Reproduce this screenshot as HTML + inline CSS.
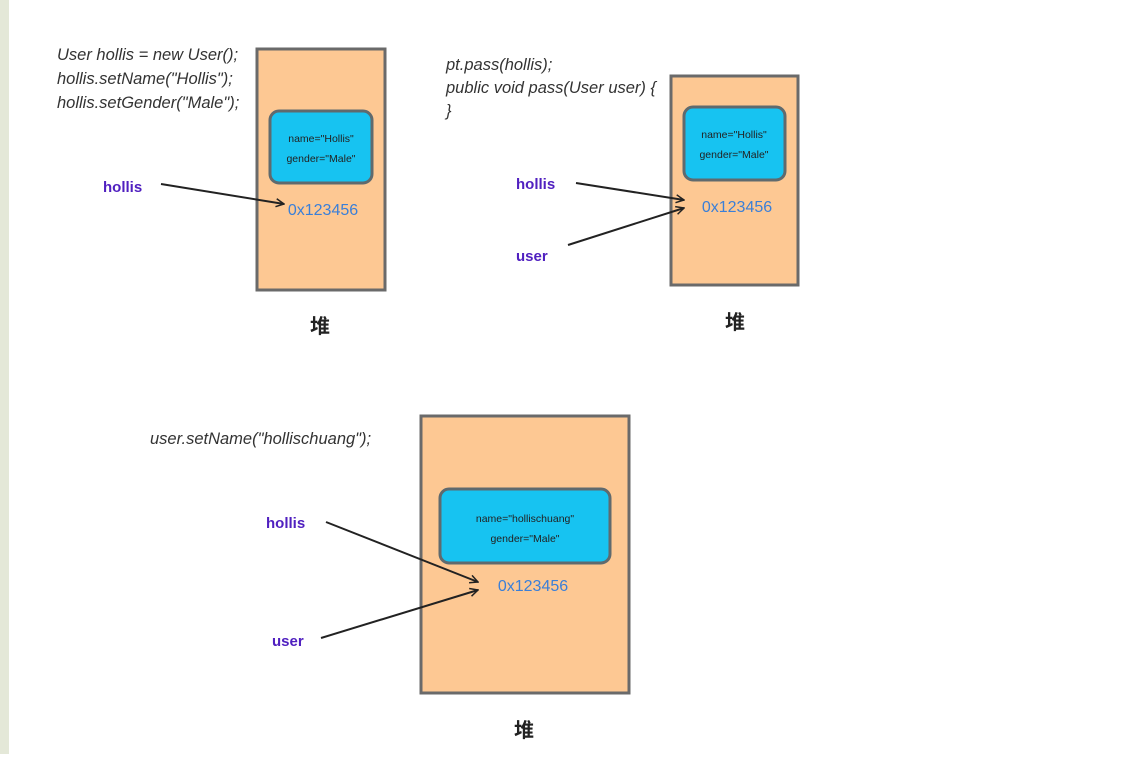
<!DOCTYPE html>
<html><head><meta charset="utf-8"><style>
body{margin:0;background:#fff;width:1129px;height:754px;overflow:hidden}
text{font-family:"Liberation Sans","Noto Sans CJK SC",sans-serif}
</style></head><body>
<svg width="1129" height="754" viewBox="0 0 1129 754" xmlns="http://www.w3.org/2000/svg">
<rect x="0" y="0" width="9" height="754" fill="#e4e8d8"/>
<defs><marker id="a" markerWidth="10" markerHeight="10" refX="9" refY="5" orient="auto" markerUnits="userSpaceOnUse"><path d="M1,1 L9,5 L1,9" fill="none" stroke="#222" stroke-width="1.5"/></marker></defs>
<g font-style="italic" font-size="16.5" fill="#333">
<text x="57" y="60">User hollis = new User();</text>
<text x="57" y="84">hollis.setName("Hollis");</text>
<text x="57" y="108">hollis.setGender("Male");</text>
<text x="446" y="70">pt.pass(hollis);</text>
<text x="446" y="93">public void pass(User user) {</text>
<text x="446" y="116">}</text>
<text x="150" y="444">user.setName("hollischuang");</text>
</g>
<g fill="#fdc893" stroke="#6a6a6a" stroke-width="3">
<rect x="257" y="49" width="128" height="241"/>
<rect x="671" y="76" width="127" height="209"/>
<rect x="421" y="416" width="208" height="277"/>
</g>
<g fill="#17c3f1" stroke="#5f6a6e" stroke-width="3">
<rect x="270" y="111" width="102" height="72" rx="9"/>
<rect x="684" y="107" width="101" height="73" rx="9"/>
<rect x="440" y="489" width="170" height="74" rx="9"/>
</g>
<g font-size="10.5" fill="#222" text-anchor="middle">
<text x="321" y="142">name="Hollis"</text><text x="321" y="162">gender="Male"</text>
<text x="734" y="138">name="Hollis"</text><text x="734" y="158">gender="Male"</text>
<text x="525" y="522">name="hollischuang"</text><text x="525" y="542">gender="Male"</text>
</g>
<g font-size="16" fill="#3a7fd8" text-anchor="middle">
<text x="323" y="215">0x123456</text>
<text x="737" y="212">0x123456</text>
<text x="533" y="591">0x123456</text>
</g>
<g font-size="15" fill="#5020c0" font-weight="bold">
<text x="103" y="192">hollis</text>
<text x="516" y="189">hollis</text>
<text x="516" y="261">user</text>
<text x="266" y="528">hollis</text>
<text x="272" y="646">user</text>
</g>
<g stroke="#222" stroke-width="2" fill="none" marker-end="url(#a)">
<line x1="161" y1="184" x2="284" y2="204"/>
<line x1="576" y1="183" x2="684" y2="200"/>
<line x1="568" y1="245" x2="684" y2="208"/>
<line x1="326" y1="522" x2="478" y2="582"/>
<line x1="321" y1="638" x2="478" y2="590"/>
</g>
<g font-size="20" fill="#222" font-weight="bold" text-anchor="middle">
<text x="320" y="333">堆</text>
<text x="735" y="329">堆</text>
<text x="524" y="737">堆</text>
</g>
</svg>
</body></html>
